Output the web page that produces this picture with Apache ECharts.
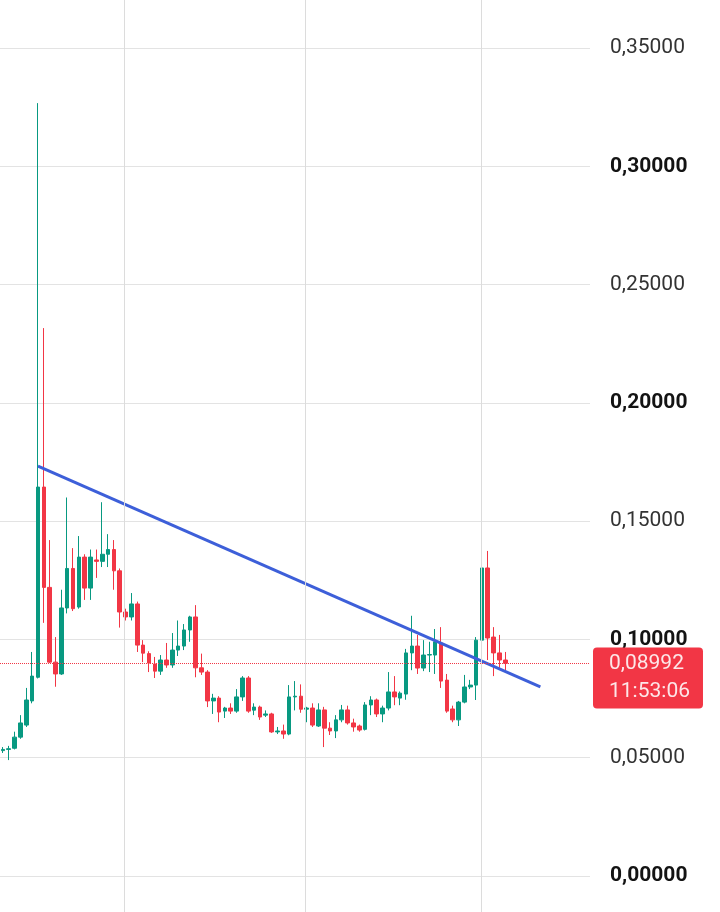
<!DOCTYPE html>
<html>
<head>
<meta charset="utf-8">
<title>K线图</title>
<script src="https://cdn.jsdelivr.net/npm/echarts@6/dist/echarts.min.js"></script>
<style>
  html, body { margin: 0; padding: 0; background: #ffffff; }
  #main { width: 720px; height: 912px; }
</style>
</head>
<body>
<div id="main"></div>
<script>
// 蜡烛数据
var opens = [
  0.0530, 0.0535, 0.0540, 0.0587, 0.0638, 0.0740, 0.0840, 0.1644, 0.1220, 0.0904,
  0.0854, 0.1133, 0.1300, 0.1137, 0.1348, 0.1217, 0.1336, 0.1330, 0.1360, 0.1380,
  0.1290, 0.1116, 0.1095, 0.1150, 0.0976, 0.0940, 0.0896, 0.0866, 0.0913, 0.0892,
  0.0955, 0.0972, 0.1040, 0.1095, 0.0880, 0.0862, 0.0740, 0.0752, 0.0697, 0.0710,
  0.0697, 0.0757, 0.0837, 0.0701, 0.0714, 0.0680, 0.0685, 0.0609, 0.0613, 0.0600,
  0.0757, 0.0760, 0.0705, 0.0710, 0.0634, 0.0702, 0.0625, 0.0613, 0.0660, 0.0702,
  0.0647, 0.0634, 0.0620, 0.0723, 0.0744, 0.0685, 0.0710, 0.0778, 0.0752, 0.0769,
  0.0943, 0.0972, 0.0879, 0.0934, 0.0934, 0.0985, 0.0828, 0.0706, 0.0660, 0.0735,
  0.0799, 0.0807, 0.0997, 0.1302, 0.1010, 0.0943, 0.0913
];
var closes = [
  0.0535, 0.0538, 0.0587, 0.0647, 0.0744, 0.0845, 0.1644, 0.1220, 0.0904, 0.0854,
  0.1133, 0.1300, 0.1130, 0.1348, 0.1217, 0.1348, 0.1330, 0.1360, 0.1380, 0.1290,
  0.1116, 0.1095, 0.1150, 0.0976, 0.0942, 0.0900, 0.0866, 0.0913, 0.0892, 0.0955,
  0.0972, 0.1040, 0.1095, 0.0880, 0.0862, 0.0740, 0.0752, 0.0693, 0.0710, 0.0697,
  0.0757, 0.0837, 0.0697, 0.0714, 0.0672, 0.0685, 0.0609, 0.0613, 0.0600, 0.0757,
  0.0760, 0.0705, 0.0710, 0.0638, 0.0702, 0.0625, 0.0613, 0.0660, 0.0702, 0.0647,
  0.0630, 0.0617, 0.0723, 0.0744, 0.0685, 0.0710, 0.0778, 0.0757, 0.0773, 0.0943,
  0.0972, 0.0879, 0.0934, 0.0936, 0.0990, 0.0824, 0.0697, 0.0660, 0.0735, 0.0799,
  0.0807, 0.0997, 0.1302, 0.1006, 0.0943, 0.0913, 0.08992
];
var lows = [
  0.0520, 0.0490, 0.0535, 0.0580, 0.0630, 0.0730, 0.0835, 0.1070, 0.0900, 0.0800,
  0.0850, 0.1110, 0.1120, 0.1130, 0.1167, 0.1167, 0.1260, 0.1306, 0.1306, 0.1210,
  0.1050, 0.1080, 0.1080, 0.0947, 0.0904, 0.0862, 0.0837, 0.0850, 0.0880, 0.0880,
  0.0930, 0.0955, 0.0990, 0.0840, 0.0850, 0.0714, 0.0685, 0.0650, 0.0668, 0.0685,
  0.0690, 0.0740, 0.0690, 0.0680, 0.0660, 0.0672, 0.0605, 0.0600, 0.0580, 0.0595,
  0.0700, 0.0690, 0.0650, 0.0630, 0.0630, 0.0545, 0.0596, 0.0583, 0.0650, 0.0640,
  0.0610, 0.0610, 0.0615, 0.0680, 0.0672, 0.0650, 0.0700, 0.0722, 0.0722, 0.0745,
  0.0870, 0.0854, 0.0866, 0.0862, 0.0854, 0.0795, 0.0690, 0.0650, 0.0634, 0.0730,
  0.0790, 0.0744, 0.0990, 0.0913, 0.0845, 0.0880, 0.0870
];
var highs = [
  0.0545, 0.0550, 0.0610, 0.0680, 0.0795, 0.0947, 0.3267, 0.2316, 0.1420, 0.1010,
  0.1210, 0.1600, 0.1386, 0.1437, 0.1360, 0.1380, 0.1380, 0.1580, 0.1445, 0.1420,
  0.1300, 0.1130, 0.1196, 0.1160, 0.0997, 0.0950, 0.0926, 0.0934, 0.0985, 0.1027,
  0.1080, 0.1065, 0.1100, 0.1145, 0.0940, 0.0870, 0.0770, 0.0760, 0.0715, 0.0730,
  0.0790, 0.0845, 0.0845, 0.0730, 0.0720, 0.0700, 0.0690, 0.0630, 0.0640, 0.0807,
  0.0824, 0.0810, 0.0715, 0.0730, 0.0730, 0.0715, 0.0650, 0.0680, 0.0723, 0.0720,
  0.0665, 0.0640, 0.0735, 0.0760, 0.0750, 0.0720, 0.0862, 0.0845, 0.0780, 0.0960,
  0.1100, 0.1019, 0.0997, 0.0990, 0.1044, 0.1052, 0.0854, 0.0720, 0.0740, 0.0850,
  0.0829, 0.1010, 0.1323, 0.1374, 0.1052, 0.1019, 0.0947
];

// x 轴一共 101 根位置（后面留空）
var categories = [];
for (var i = 0; i < 101; i++) {
  categories.push(String(i + 1));
}
// 竖向网格线（日期分隔），单位是 K 线序号
var dateLines = [20.7, 51.7, 81.9];

// 趋势线（两点）
var trendX = [6, 92];
var trendY = [0.1733, 0.0799];

var lastClose = closes[closes.length - 1];
var countdown = '11:53:06';

var candleData = [];
for (var k = 0; k < opens.length; k++) {
  candleData.push([opens[k], closes[k], lows[k], highs[k]]);
}
var trendData = [];
for (var t = 0; t < trendX.length; t++) {
  trendData.push([trendX[t], trendY[t]]);
}
var dateLineData = [];
for (var d = 0; d < dateLines.length; d++) {
  dateLineData.push({ xAxis: dateLines[d] });
}

function fmt(v) {
  return v.toFixed(5).replace('.', ',');
}

var chart = echarts.init(document.getElementById('main'));
var option = {
  animation: false,
  backgroundColor: '#ffffff',
  grid: [
    { left: 0, right: 130, top: 48, bottom: 36 },
    // 第二个 grid 只用来画贯穿整个高度的竖线
    { left: 0, right: 130, top: 0, bottom: 0 }
  ],
  xAxis: [
    {
      type: 'category',
      gridIndex: 0,
      data: categories,
      boundaryGap: true,
      axisLine: { show: false },
      axisTick: { show: false },
      axisLabel: { show: false },
      splitLine: { show: false }
    },
    {
      type: 'value',
      gridIndex: 1,
      min: -0.5,
      max: categories.length - 0.5,
      show: false,
      splitLine: { show: false }
    }
  ],
  yAxis: [
    {
      type: 'value',
      gridIndex: 0,
      position: 'right',
      min: 0,
      max: 0.35,
      interval: 0.05,
      axisLine: { show: false },
      axisTick: { show: false },
      splitLine: { lineStyle: { color: '#e3e3e3', width: 1 } },
      axisLabel: {
        margin: 20,
        formatter: function (v) {
          var s = fmt(v);
          var bold = Math.round(v * 100) % 10 === 0;
          return bold ? '{b|' + s + '}' : '{n|' + s + '}';
        },
        rich: {
          n: { fontFamily: 'Roboto', fontSize: 21, color: '#333333' },
          b: { fontFamily: 'Roboto', fontSize: 21, fontWeight: 'bold', color: '#131313' }
        }
      }
    },
    {
      type: 'value',
      gridIndex: 1,
      min: 0,
      max: 1,
      show: false,
      splitLine: { show: false }
    }
  ],
  series: [
    {
      type: 'line',
      xAxisIndex: 1,
      yAxisIndex: 1,
      data: [[-10, -10]],
      symbol: 'none',
      silent: true,
      z: 0,
      markLine: {
        silent: true,
        symbol: ['none', 'none'],
        label: { show: false },
        lineStyle: { type: 'solid', color: '#dcdcdc', width: 1 },
        data: dateLineData
      }
    },
    {
      type: 'candlestick',
      data: candleData,
      barWidth: '70%',
      itemStyle: {
        color: '#089981',
        color0: '#f23645',
        borderColor: '#089981',
        borderColor0: '#f23645',
        borderWidth: 1
      },
      markLine: {
        silent: true,
        symbol: ['none', 'none'],
        lineStyle: { type: 'dotted', color: '#f23645', width: 1 },
        label: {
          position: 'end',
          distance: 3,
          offset: [0, 15],
          formatter: function () {
            return fmt(lastClose) + '\n' + countdown;
          },
          backgroundColor: '#f23645',
          color: '#fde6e8',
          fontFamily: 'Roboto',
          fontSize: 21,
          lineHeight: 28,
          padding: [1, 13, 4, 16],
          borderRadius: 4
        },
        data: [{ yAxis: lastClose }]
      }
    },
    {
      type: 'line',
      data: trendData,
      symbol: 'none',
      silent: true,
      lineStyle: { color: '#3d5fd9', width: 3 }
    }
  ]
};
chart.setOption(option);
</script>
</body>
</html>
